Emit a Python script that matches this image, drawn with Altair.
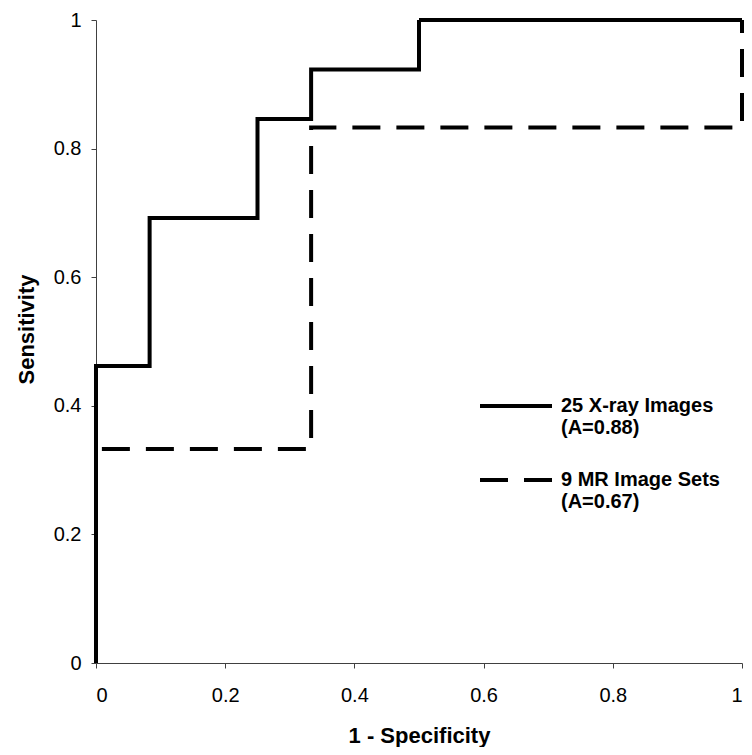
import altair as alt
import pandas as pd

# ROC curve points (1 - specificity, sensitivity), step curves
xray_fpr = [0, 0, 0.083, 0.083, 0.25, 0.25, 0.333, 0.333, 0.5, 0.5, 1]
xray_tpr = [0, 0.462, 0.462, 0.692, 0.692, 0.846, 0.846, 0.923, 0.923, 1, 1]
mr_fpr = [0, 0, 0.333, 0.333, 1, 1]
mr_tpr = [0, 0.333, 0.333, 0.833, 0.833, 1]

series_names = ["25 X-ray Images|(A=0.88)", "9 MR Image Sets|(A=0.67)"]
ticks = [0, 0.2, 0.4, 0.6, 0.8, 1]

rows = []
for i, (x, y) in enumerate(zip(xray_fpr, xray_tpr)):
    rows.append({"series": series_names[0], "fpr": x, "tpr": y, "idx": i})
for i, (x, y) in enumerate(zip(mr_fpr, mr_tpr)):
    rows.append({"series": series_names[1], "fpr": x, "tpr": y, "idx": i})
df = pd.DataFrame(rows)

chart = (
    alt.Chart(df)
    .mark_line(color="black", strokeWidth=4, clip=False, strokeCap="butt", strokeJoin="miter")
    .encode(
        x=alt.X(
            "fpr:Q",
            scale=alt.Scale(domain=[0, 1], nice=False, zero=False),
            axis=alt.Axis(
                values=ticks, format="~g", title="1 - Specificity",
                titleX=323, titleY=79, titleBaseline="alphabetic",
                labelPadding=17, titleFontSize=22,
            ),
        ),
        y=alt.Y(
            "tpr:Q",
            scale=alt.Scale(domain=[0, 1], nice=False, zero=False),
            axis=alt.Axis(
                values=ticks, format="~g", title="Sensitivity",
                titleX=-63, titleY=309, titleBaseline="alphabetic", titleAngle=-90,
                labelPadding=10, titleFontSize=22,
            ),
        ),
        strokeDash=alt.StrokeDash(
            "series:N",
            scale=alt.Scale(domain=series_names, range=[[1, 0], [28, 16]]),
            legend=alt.Legend(
                title=None,
                orient="none",
                legendX=382,
                legendY=348,
                padding=0,
                symbolType="stroke",
                symbolSize=5184,
                symbolStrokeWidth=4,
                symbolStrokeColor="black",
                labelExpr="split(datum.label, '|')",
                labelFont="Liberation Sans",
                labelFontSize=20,
                labelFontWeight="bold",
                labelColor="black",
                labelBaseline="middle",
                labelOffset=7,
                labelLimit=400,
                rowPadding=4,
            ),
        ),
        detail="series:N",
        order="idx:Q",
    )
    .properties(
        width=646,
        height=643,
        autosize=alt.AutoSizeParams(type="none"),
        padding={"left": 88, "top": 12, "right": 2, "bottom": 84},
    )
    .configure_view(stroke=None)
    .configure_axis(
        grid=False,
        domainColor="#404040",
        tickColor="#404040",
        tickSize=5,
        labelFont="Liberation Sans",
        labelFontSize=20,
        labelColor="black",
        titleFont="Liberation Sans",
        titleFontWeight="bold",
        titleColor="black",
    )
)

chart.save("out.html", embed_options={"renderer": "svg", "actions": False})
